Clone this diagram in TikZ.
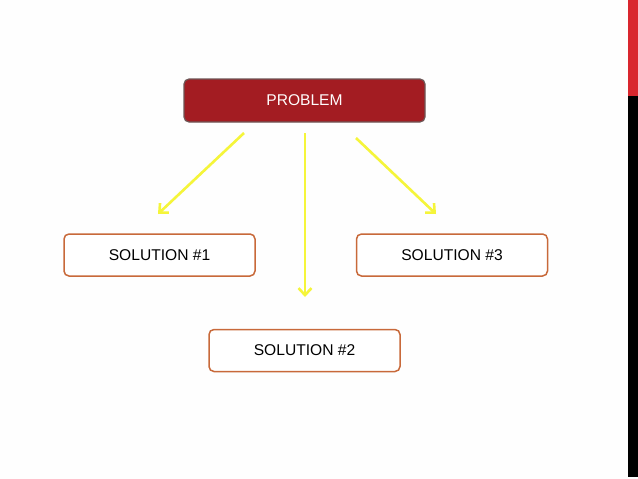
\documentclass[tikz,border=0pt]{standalone}
\usepackage{fontspec}
\setmainfont{Liberation Sans}
\usetikzlibrary{arrows.meta}
\definecolor{probred}{HTML}{A31C22}
\definecolor{probedge}{HTML}{6E5656}
\definecolor{soledge}{HTML}{C8693A}
\definecolor{arrowyel}{HTML}{F5F53A}
\definecolor{stripred}{HTML}{D9272E}
\tikzset{
  box/.style={rectangle, rounded corners=5pt, minimum width=191pt, minimum height=42pt, inner sep=0pt, font=\fontsize{15.6}{18}\selectfont},
  probbox/.style={box, fill=probred, draw=probedge, line width=1.2pt, text=white!95!pink, minimum width=241pt, minimum height=43pt},
  solbox/.style={box, fill=white, draw=soledge, line width=1.5pt, text=black},
  yarrow/.style={draw=arrowyel, line width=2.6pt, -{Straight Barb[length=7pt,width=13pt,line width=2.6pt]}}
}
\begin{document}
\begin{tikzpicture}[x=1pt,y=-1pt]
\useasboundingbox (0,0) rectangle (638,479);
\fill[white!99!gray] (0,0) rectangle (638,479);
\fill[stripred] (628,0) rectangle (638,96);
\fill[black] (628,96) rectangle (638,477);
\node[probbox] (problem) at (304.5,100.5) {PROBLEM};
\node[solbox] (sol1) at (159.5,255) {SOLUTION \#1};
\node[solbox] (sol3) at (452,255) {SOLUTION \#3};
\node[solbox] (sol2) at (304.5,350.5) {SOLUTION \#2};
\coordinate (a1s) at (244,133);
\coordinate (a1e) at (158,214);
\coordinate (a2s) at (305,133);
\coordinate (a2e) at (305,297);
\coordinate (a3s) at (356,138);
\coordinate (a3e) at (436,214);
\draw[yarrow] (a1s) -- (a1e);
\draw[yarrow] (a2s) -- (a2e);
\draw[yarrow] (a3s) -- (a3e);
\end{tikzpicture}
\end{document}
